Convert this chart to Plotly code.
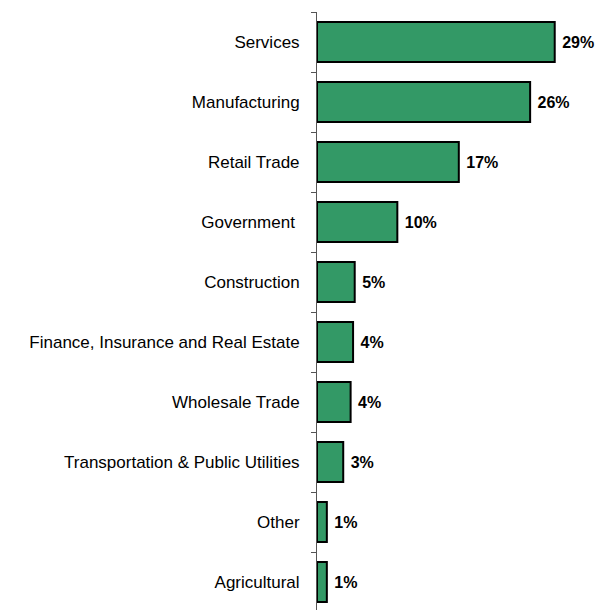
import plotly.graph_objects as go

categories = ["Services", "Manufacturing", "Retail Trade", "Government ",
              "Construction", "Finance, Insurance and Real Estate",
              "Wholesale Trade", "Transportation & Public Utilities",
              "Other", "Agricultural"]
shares = [29, 26, 17.3, 9.8, 4.6, 4.4, 4.1, 3.2, 1.2, 1.2]

fig = go.Figure(go.Bar(
    x=shares, y=categories, orientation="h",
    marker=dict(color="#339966", line=dict(color="black", width=2)),
    width=0.67,
    texttemplate=" %{x:.0f}%", textposition="outside", cliponaxis=False,
    textfont=dict(family="Liberation Sans, Arial", size=16, color="black", weight="bold"),
))
fig.update_layout(
    width=605, height=604,
    margin=dict(l=309, r=5, t=4, b=0),
    plot_bgcolor="white", paper_bgcolor="white",
    showlegend=False,
    font=dict(family="Liberation Sans, Arial", size=17, color="black"),
    xaxis=dict(range=[0, 35.5], visible=False),
    yaxis=dict(categoryorder="array", categoryarray=categories, autorange="reversed",
               showline=True, linecolor="#555555", linewidth=1,
               ticks="outside", tickson="boundaries", ticklen=5, tickcolor="#555555",
               ticklabelstandoff=13, showgrid=False, zeroline=False),
)
fig.write_html("out.html")
